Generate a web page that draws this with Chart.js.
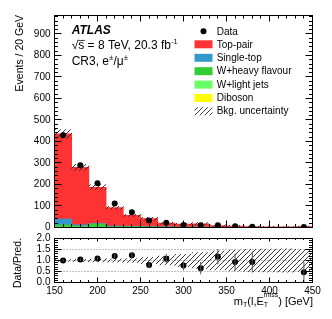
<!DOCTYPE html>
<html>
<head>
<meta charset="utf-8">
<script src="https://cdn.jsdelivr.net/npm/chart.js@4.4.1/dist/chart.umd.min.js"></script>
<style>
  body { margin: 0; background: #fff; }
  #wrap { position: relative; width: 332px; height: 319px; background: #fff; }
  #wrap canvas { position: absolute; left: 0; top: 0; }
</style>
</head>
<body>
<div id="wrap">
  <canvas id="mainChart" width="332" height="319"></canvas>
  <canvas id="ratioChart" width="332" height="319"></canvas>
</div>
<script>
// m_T bins, 20 GeV wide (centres)
const binCentres = [160, 180, 200, 220, 240, 260, 280, 300, 320, 340, 360, 380, 400, 420, 440];

// stacked backgrounds, bottom to top
const diboson   = [0.5, 0.4, 0.4, 0.3, 0.3, 0.2, 0.2, 0.1, 0.1, 0.1, 0.1, 0.1, 0.1, 0.1, 0.1];
const wLight    = [2, 1.5, 2, 1, 1, 0.8, 0.5, 0.4, 0.3, 0.3, 0.2, 0.2, 0.1, 0.1, 0.1];
const wHeavy    = [10, 5, 13, 3, 3, 2, 1.5, 1, 1, 0.8, 0.5, 0.4, 0.3, 0.2, 0.2];
const singleTop = [27, 6, 3, 2, 1.5, 1.2, 0.8, 0.6, 0.5, 0.4, 0.3, 0.2, 0.2, 0.2, 0.1];
const topPair   = [396, 267, 169, 86, 51, 37, 17, 13.5, 15, 7, 5.5, 3.4, 2.8, 2.2, 3.8];

// absolute background uncertainty per bin
const bkgUnc = [20, 14, 12, 6.5, 5, 6, 4, 4.3, 6, 3.7, 3.1, 2.2, 1.8, 1.5, 2.2];

// data
const dataEvents = [429, 290, 206, 112, 71, 33, 22, 12, 11, 10, 6, 4, null, null, 2];

// ratio panel
const ratioVals = [1.0, 1.04, 1.09, 1.2, 1.24, 0.79, 1.08, 0.77, 0.65, 1.17, 0.93, 0.93, null, null, 0.47];
const ratioErr  = [0.05, 0.06, 0.08, 0.1, 0.13, 0.14, 0.22, 0.22, 0.28, 0.35, 0.38, 0.48, null, null, 0.47];

// tick labels
const xTickValues = [150, 200, 250, 300, 350, 400, 450];
const mainYTicks = [0, 100, 200, 300, 400, 500, 600, 700, 800, 900];
const ratioYTicks = [0, 0.5, 1, 1.5, 2];

const seriesNames = ['Data', 'Top-pair', 'Single-top', 'W+heavy flavour', 'W+light jets', 'Diboson', 'Bkg. uncertainty'];
const colours = {
  'Top-pair': '#ff3333',
  'Single-top': '#3399cc',
  'W+heavy flavour': '#33cc33',
  'W+light jets': '#66ff66',
  'Diboson': '#ffff00'
};

const FONT = "'Liberation Sans', Arial, Helvetica, sans-serif";
Chart.defaults.font.family = FONT;
Chart.defaults.color = '#000';

const totals = binCentres.map((x, i) =>
  diboson[i] + wLight[i] + wHeavy[i] + singleTop[i] + topPair[i]);

const pts = arr => binCentres.map((x, i) => ({ x: x, y: arr[i] }));

// hatch pattern  ////
const mainCtx = document.getElementById('mainChart').getContext('2d');
const hatch = (function () {
  const tile = document.createElement('canvas');
  tile.width = 5; tile.height = 5;
  const c = tile.getContext('2d');
  c.strokeStyle = '#222';
  c.lineWidth = 0.9;
  c.beginPath();
  c.moveTo(-1, 6); c.lineTo(6, -1);
  c.moveTo(-1, 1); c.lineTo(1, -1);
  c.moveTo(4, 6); c.lineTo(6, 4);
  c.stroke();
  return mainCtx.createPattern(tile, 'repeat');
})();

// ROOT-like frame with inward ticks on all four sides
function frameTicks(chart, t) {
  const { ctx, chartArea: a } = chart;
  const xs = chart.scales.x, ys = chart.scales.y;
  const snap = p => Math.round(p - 0.5) + 0.5;
  ctx.save();
  ctx.strokeStyle = '#000';
  ctx.lineWidth = 1;
  ctx.beginPath();
  for (let i = 0; ; i++) {
    const v = xs.min + i * t.xMinor;
    if (v > xs.max + 1e-9) break;
    const px = snap(xs.getPixelForValue(v));
    const major = i % t.xEvery === 0;
    const lb = major ? t.xLen : t.xLen / 2;
    const lt = major ? t.xTopLen : t.xTopLen / 2;
    ctx.moveTo(px, a.bottom); ctx.lineTo(px, a.bottom - lb);
    ctx.moveTo(px, a.top); ctx.lineTo(px, a.top + lt);
  }
  for (let i = 0; ; i++) {
    const v = ys.min + i * t.yMinor;
    if (v > ys.max + 1e-9) break;
    const py = snap(ys.getPixelForValue(v));
    const l = i % t.yEvery === 0 ? t.yLen : t.yLen / 2;
    ctx.moveTo(a.left, py); ctx.lineTo(a.left + l, py);
    ctx.moveTo(a.right, py); ctx.lineTo(a.right - l, py);
  }
  ctx.stroke();
  ctx.strokeRect(snap(a.left), snap(a.top), Math.round(a.right - a.left), Math.round(a.bottom - a.top));
  ctx.restore();
}

function fontStr(p) {
  return (p.style || '') + ' ' + p.size + 'px ' + FONT;
}

// draws a run of text pieces with sub/superscripts
function drawRich(ctx, x, y, parts, align) {
  let w = 0;
  parts.forEach(p => {
    ctx.font = fontStr(p);
    if (!p.stay) w += ctx.measureText(p.t).width;
  });
  let cx = align === 'right' ? x - w : x;
  ctx.textAlign = 'left';
  ctx.textBaseline = 'alphabetic';
  parts.forEach(p => {
    ctx.font = fontStr(p);
    ctx.fillText(p.t, cx, y + (p.dy || 0));
    if (p.over) {
      const ww = ctx.measureText(p.t).width;
      ctx.fillRect(cx, y - p.size * 0.78, ww + 0.5, 0.8);
    }
    if (!p.stay) cx += ctx.measureText(p.t).width;
  });
}

const textPlugin = {
  id: 'texts',
  afterDraw(chart) {
    const ctx = chart.ctx;
    ctx.save();
    ctx.fillStyle = '#000';

    drawRich(ctx, 71.7, 34, [{ t: 'ATLAS', size: 12, style: 'italic bold' }]);
    drawRich(ctx, 71.7, 49.3, [
      { t: '\u221A', size: 12 },
      { t: 's', size: 12, over: true },
      { t: ' = 8 TeV, 20.3 fb', size: 12 },
      { t: '-1', size: 7.5, dy: -5.5 }
    ]);
    drawRich(ctx, 71.7, 65, [
      { t: 'CR3, e', size: 12 },
      { t: '\u00B1', size: 8, dy: -5 },
      { t: '/\u03BC', size: 12 },
      { t: '\u00B1', size: 8, dy: -5 }
    ]);

    // legend
    const rowY = [31.3, 44.3, 57.8, 71.2, 84.6, 98, 111.2];
    seriesNames.forEach((name, i) => {
      const yy = rowY[i];
      if (name === 'Data') {
        ctx.beginPath();
        ctx.arc(203.5, yy, 3, 0, Math.PI * 2);
        ctx.fill();
      } else if (name === 'Bkg. uncertainty') {
        ctx.fillStyle = hatch;
        ctx.fillRect(194.5, yy - 4, 18, 8);
        ctx.fillStyle = '#000';
      } else {
        ctx.fillStyle = colours[name];
        ctx.fillRect(194.5, yy - 4, 18, 8);
        ctx.fillStyle = '#000';
      }
      ctx.font = '10px ' + FONT;
      ctx.textAlign = 'left';
      ctx.textBaseline = 'middle';
      ctx.fillText(name, 216.7, yy + 0.5);
    });

    // axis titles
    ctx.save();
    ctx.translate(23, 15);
    ctx.rotate(-Math.PI / 2);
    ctx.font = '10.5px ' + FONT;
    ctx.textAlign = 'right';
    ctx.textBaseline = 'alphabetic';
    ctx.fillText('Events / 20 GeV', 0, 0);
    ctx.restore();

    ctx.save();
    ctx.translate(20.5, 263);
    ctx.rotate(-Math.PI / 2);
    ctx.font = '10.5px ' + FONT;
    ctx.textAlign = 'center';
    ctx.textBaseline = 'alphabetic';
    ctx.fillText('Data/Pred.', 0, 0);
    ctx.restore();

    drawRich(ctx, 313, 305, [
      { t: 'm', size: 11 },
      { t: 'T', size: 7, dy: 2.3 },
      { t: '(l,E', size: 11 },
      { t: 'T', size: 7, dy: 2.3, stay: true },
      { t: 'miss', size: 7, dy: -8 },
      { t: ') [GeV]', size: 11 }
    ], 'right');

    ctx.restore();
  }
};

const mainFrame = {
  id: 'mainFrame',
  afterDatasetsDraw(chart) {
    frameTicks(chart, { xMinor: 10, xEvery: 5, xLen: 7, xTopLen: 6, yMinor: 20, yEvery: 5, yLen: 7 });
  }
};

const barDefaults = { grouped: false, barPercentage: 1, categoryPercentage: 1, borderWidth: 0 };

new Chart(mainCtx, {
  type: 'bar',
  data: {
    datasets: [
      {
        type: 'line', label: 'Data', data: pts(dataEvents), stack: 'data',
        showLine: false, pointRadius: 3, pointBorderWidth: 0,
        pointBackgroundColor: '#000', borderColor: '#000', backgroundColor: '#000'
      },
      {
        label: 'Bkg. uncertainty', stack: 'unc', backgroundColor: hatch,
        data: binCentres.map((x, i) => ({ x: x, y: [totals[i] - bkgUnc[i], totals[i] + bkgUnc[i]] }))
      },
      { label: 'Diboson', data: pts(diboson), stack: 'bkg', backgroundColor: colours['Diboson'] },
      { label: 'W+light jets', data: pts(wLight), stack: 'bkg', backgroundColor: colours['W+light jets'] },
      { label: 'W+heavy flavour', data: pts(wHeavy), stack: 'bkg', backgroundColor: colours['W+heavy flavour'] },
      { label: 'Single-top', data: pts(singleTop), stack: 'bkg', backgroundColor: colours['Single-top'] },
      { label: 'Top-pair', data: pts(topPair), stack: 'bkg', backgroundColor: colours['Top-pair'] }
    ]
  },
  options: {
    responsive: false,
    animation: false,
    devicePixelRatio: 1,
    layout: { padding: { left: 0, right: 19.5, top: 15.5, bottom: 91.5 } },
    plugins: { legend: { display: false }, tooltip: { enabled: false } },
    datasets: { bar: barDefaults },
    scales: {
      x: {
        type: 'linear', min: 150, max: 450, offset: false, display: false,
        afterBuildTicks: s => { s.ticks = xTickValues.map(v => ({ value: v })); }
      },
      y: {
        min: 0, max: 986, stacked: true,
        grid: { display: false, drawTicks: false },
        border: { display: false },
        afterBuildTicks: s => { s.ticks = mainYTicks.map(v => ({ value: v })); },
        afterFit: s => { s.width = 54.5; },
        ticks: { padding: 4, color: '#000', font: { size: 10 }, autoSkip: false, callback: v => String(v) }
      }
    }
  },
  plugins: [mainFrame, textPlugin]
});

const ratioDeco = {
  id: 'ratioDeco',
  beforeDatasetsDraw(chart) {
    const { ctx, chartArea: a, scales: { y } } = chart;
    ctx.save();
    ctx.strokeStyle = '#888';
    ctx.lineWidth = 1;
    ctx.setLineDash([1, 2]);
    [0.5, 1, 1.5].forEach(v => {
      const py = Math.round(y.getPixelForValue(v) - 0.5) + 0.5;
      ctx.beginPath();
      ctx.moveTo(a.left, py);
      ctx.lineTo(a.right, py);
      ctx.stroke();
    });
    ctx.restore();
  },
  afterDatasetsDraw(chart) {
    const { ctx, chartArea: a, scales: { x, y } } = chart;
    ctx.save();
    ctx.beginPath();
    ctx.rect(a.left, a.top, a.right - a.left, a.bottom - a.top);
    ctx.clip();
    ctx.strokeStyle = '#555';
    ctx.lineWidth = 1;
    ctx.beginPath();
    binCentres.forEach((c, i) => {
      if (ratioVals[i] == null) return;
      const px = x.getPixelForValue(c);
      ctx.moveTo(px, y.getPixelForValue(ratioVals[i] - ratioErr[i]));
      ctx.lineTo(px, y.getPixelForValue(ratioVals[i] + ratioErr[i]));
    });
    ctx.stroke();
    ctx.restore();
    frameTicks(chart, { xMinor: 10, xEvery: 5, xLen: 5, xTopLen: 3, yMinor: 0.1, yEvery: 5, yLen: 7 });
  }
};

new Chart(document.getElementById('ratioChart'), {
  type: 'bar',
  data: {
    datasets: [
      {
        type: 'line', label: 'Data/Pred.', data: pts(ratioVals),
        showLine: false, pointRadius: 3, pointBorderWidth: 0,
        pointBackgroundColor: '#000', borderColor: '#000', backgroundColor: '#000'
      },
      {
        label: 'Bkg. uncertainty', backgroundColor: hatch,
        data: binCentres.map((x, i) => ({ x: x, y: [1 - bkgUnc[i] / totals[i], 1 + bkgUnc[i] / totals[i]] }))
      }
    ]
  },
  options: {
    responsive: false,
    animation: false,
    devicePixelRatio: 1,
    layout: { padding: { left: 0, right: 19.5, top: 238.5, bottom: 0 } },
    plugins: { legend: { display: false }, tooltip: { enabled: false } },
    datasets: { bar: barDefaults },
    scales: {
      x: {
        type: 'linear', min: 150, max: 450, offset: false,
        grid: { display: false, drawTicks: false },
        border: { display: false },
        afterBuildTicks: s => { s.ticks = xTickValues.map(v => ({ value: v })); },
        afterFit: s => { s.height = 36.5; },
        ticks: { padding: 3, color: '#000', font: { size: 10 }, maxRotation: 0, autoSkip: false, callback: v => String(v) }
      },
      y: {
        min: 0, max: 2,
        grid: { display: false, drawTicks: false },
        border: { display: false },
        afterBuildTicks: s => { s.ticks = ratioYTicks.map(v => ({ value: v })); },
        afterFit: s => { s.width = 54.5; },
        ticks: { padding: 4, color: '#000', font: { size: 10 }, autoSkip: false, callback: v => Number(v).toFixed(1) }
      }
    }
  },
  plugins: [ratioDeco]
});
</script>
</body>
</html>
